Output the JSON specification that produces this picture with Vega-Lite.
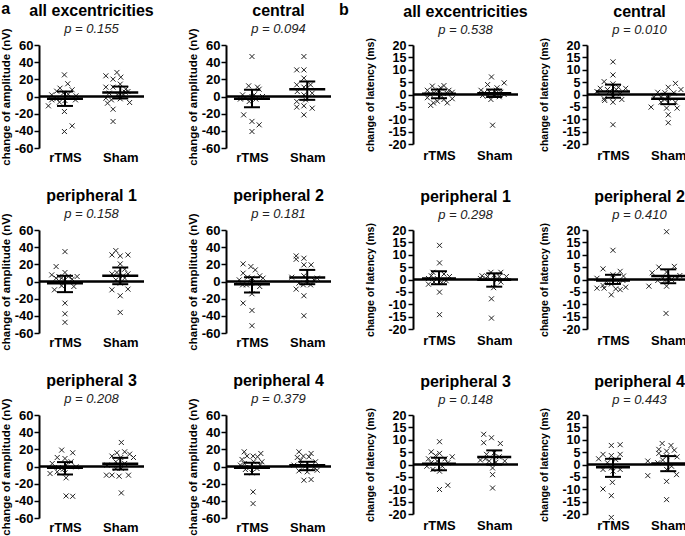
{
"$schema":"https://vega.github.io/schema/vega-lite/v6.json",
"padding":{"left":0,"top":0,"right":0,"bottom":0},
"datasets":{
"stats":[
{"p":"A1","x":1,"m":-2.7,"lo":-11,"hi":5.8},{"p":"A1","x":2,"m":4.7,"lo":-2.3,"hi":11.6},
{"p":"A2","x":1,"m":-2.7,"lo":-12.4,"hi":7.8},{"p":"A2","x":2,"m":8.5,"lo":-3.9,"hi":17.5},
{"p":"A3","x":1,"m":-1.9,"lo":-12.4,"hi":6.6},{"p":"A3","x":2,"m":6.6,"lo":-3.1,"hi":16.3},
{"p":"A4","x":1,"m":-3.1,"lo":-12.8,"hi":5},{"p":"A4","x":2,"m":4.6,"lo":-3.1,"hi":13.5},
{"p":"A5","x":1,"m":-1.6,"lo":-9.3,"hi":5.1},{"p":"A5","x":2,"m":3.1,"lo":-3.5,"hi":10.1},
{"p":"A6","x":1,"m":-1.6,"lo":-9,"hi":4.3},{"p":"A6","x":2,"m":1.6,"lo":-4.3,"hi":5.5},
{"p":"B1","x":1,"m":0.3,"lo":-1.5,"hi":2},{"p":"B1","x":2,"m":0.5,"lo":-1,"hi":2},
{"p":"B2","x":1,"m":1.2,"lo":-1.3,"hi":4},{"p":"B2","x":2,"m":-1.7,"lo":-3.9,"hi":0.3},
{"p":"B3","x":1,"m":0.4,"lo":-1.9,"hi":3.3},{"p":"B3","x":2,"m":-0.1,"lo":-2.9,"hi":2.5},
{"p":"B4","x":1,"m":-0.4,"lo":-1.8,"hi":1.9},{"p":"B4","x":2,"m":1.4,"lo":-1.5,"hi":4.1},
{"p":"B5","x":1,"m":0.3,"lo":-2.3,"hi":2.7},{"p":"B5","x":2,"m":3,"lo":0,"hi":5.7},
{"p":"B6","x":1,"m":-1.1,"lo":-5,"hi":2.3},{"p":"B6","x":2,"m":0.4,"lo":-2.7,"hi":3.4}
],
"pts":[
{"p":"A1","x":0.99,"v":25.2},{"p":"A1","x":1.05,"v":14.8},{"p":"A1","x":0.91,"v":9.7},{"p":"A1","x":1.13,"v":7.8},{"p":"A1","x":0.85,"v":6.2},{"p":"A1","x":0.76,"v":1.9},{"p":"A1","x":0.97,"v":3.9},{"p":"A1","x":1.06,"v":2.7},{"p":"A1","x":1.2,"v":0.8},{"p":"A1","x":0.76,"v":-3.9},{"p":"A1","x":0.85,"v":-2.7},{"p":"A1","x":1.0,"v":-4.7},{"p":"A1","x":1.19,"v":-3.9},{"p":"A1","x":0.9,"v":-6.6},{"p":"A1","x":0.7,"v":-10.9},{"p":"A1","x":0.99,"v":-17.5},{"p":"A1","x":1.13,"v":-34.2},{"p":"A1","x":0.99,"v":-40.8},
{"p":"A1","x":1.74,"v":24.1},{"p":"A1","x":1.94,"v":28},{"p":"A1","x":1.87,"v":20.2},{"p":"A1","x":2.01,"v":22.5},{"p":"A1","x":2.0,"v":14.4},{"p":"A1","x":1.74,"v":10.9},{"p":"A1","x":1.87,"v":10.9},{"p":"A1","x":2.14,"v":5.8},{"p":"A1","x":2.09,"v":5},{"p":"A1","x":1.8,"v":3.9},{"p":"A1","x":1.95,"v":1.9},{"p":"A1","x":2.06,"v":1.9},{"p":"A1","x":1.74,"v":-1.9},{"p":"A1","x":1.84,"v":-3.9},{"p":"A1","x":2.0,"v":-2.7},{"p":"A1","x":1.77,"v":-7.8},{"p":"A1","x":2.17,"v":-7},{"p":"A1","x":1.87,"v":-14.8},{"p":"A1","x":1.87,"v":-29.1},{"p":"A1","x":2.1,"v":8.5},
{"p":"A2","x":1.0,"v":46.6},{"p":"A2","x":0.94,"v":12.4},{"p":"A2","x":1.13,"v":8.5},{"p":"A2","x":0.83,"v":1.9},{"p":"A2","x":0.88,"v":-1.9},{"p":"A2","x":1.0,"v":0},{"p":"A2","x":1.04,"v":1.9},{"p":"A2","x":1.07,"v":-3},{"p":"A2","x":1.19,"v":0},{"p":"A2","x":0.95,"v":-5.8},{"p":"A2","x":0.85,"v":-21.4},{"p":"A2","x":1.0,"v":-29},{"p":"A2","x":1.13,"v":-33},{"p":"A2","x":1.0,"v":-40.8},{"p":"A2","x":0.79,"v":-3},{"p":"A2","x":1.1,"v":10.9},
{"p":"A2","x":1.94,"v":46.6},{"p":"A2","x":1.81,"v":31},{"p":"A2","x":1.94,"v":31},{"p":"A2","x":1.94,"v":21.4},{"p":"A2","x":1.81,"v":13.6},{"p":"A2","x":2.06,"v":13.6},{"p":"A2","x":1.94,"v":10.9},{"p":"A2","x":1.82,"v":5.8},{"p":"A2","x":2.09,"v":3.9},{"p":"A2","x":1.94,"v":1.9},{"p":"A2","x":1.81,"v":-5.8},{"p":"A2","x":1.81,"v":-12.4},{"p":"A2","x":1.94,"v":-10.9},{"p":"A2","x":2.09,"v":-13.6},{"p":"A2","x":1.94,"v":-21.4},{"p":"A2","x":1.97,"v":-3.9},
{"p":"A3","x":1.0,"v":34.8},{"p":"A3","x":0.84,"v":17.4},{"p":"A3","x":0.76,"v":7.7},{"p":"A3","x":1.0,"v":10.5},{"p":"A3","x":0.84,"v":3.9},{"p":"A3","x":1.06,"v":5.8},{"p":"A3","x":1.22,"v":5.8},{"p":"A3","x":0.94,"v":3.9},{"p":"A3","x":1.13,"v":2.7},{"p":"A3","x":0.97,"v":-1.9},{"p":"A3","x":0.81,"v":-9.7},{"p":"A3","x":1.16,"v":-5.8},{"p":"A3","x":0.94,"v":-5},{"p":"A3","x":1.0,"v":-25.2},{"p":"A3","x":1.0,"v":-37.6},{"p":"A3","x":1.0,"v":-47.6},{"p":"A3","x":0.89,"v":5.8},
{"p":"A3","x":1.92,"v":36},{"p":"A3","x":1.85,"v":31},{"p":"A3","x":2.0,"v":29.8},{"p":"A3","x":2.14,"v":31},{"p":"A3","x":2.0,"v":20.5},{"p":"A3","x":2.08,"v":14.3},{"p":"A3","x":1.94,"v":10.5},{"p":"A3","x":1.85,"v":8.9},{"p":"A3","x":2.14,"v":8.9},{"p":"A3","x":2.05,"v":6.6},{"p":"A3","x":2.08,"v":3.9},{"p":"A3","x":2.0,"v":-1.9},{"p":"A3","x":1.85,"v":-9.7},{"p":"A3","x":2.14,"v":-8.9},{"p":"A3","x":2.0,"v":-16.6},{"p":"A3","x":2.0,"v":-36},{"p":"A3","x":1.92,"v":1.9},
{"p":"A4","x":0.84,"v":20.5},{"p":"A4","x":0.98,"v":17.4},{"p":"A4","x":1.06,"v":13.5},{"p":"A4","x":0.84,"v":9.7},{"p":"A4","x":1.14,"v":6.6},{"p":"A4","x":1.0,"v":3.9},{"p":"A4","x":1.2,"v":3.9},{"p":"A4","x":0.77,"v":1.9},{"p":"A4","x":0.92,"v":5},{"p":"A4","x":1.14,"v":-5.8},{"p":"A4","x":0.9,"v":-3.9},{"p":"A4","x":0.99,"v":-1.9},{"p":"A4","x":0.84,"v":-25.2},{"p":"A4","x":1.0,"v":-14.3},{"p":"A4","x":1.0,"v":-33.7},{"p":"A4","x":1.0,"v":-51.5},{"p":"A4","x":0.83,"v":-3.9},
{"p":"A4","x":1.8,"v":29.8},{"p":"A4","x":1.8,"v":25.9},{"p":"A4","x":1.94,"v":27.1},{"p":"A4","x":1.94,"v":19.4},{"p":"A4","x":2.07,"v":19.4},{"p":"A4","x":1.72,"v":5},{"p":"A4","x":1.94,"v":6.6},{"p":"A4","x":2.0,"v":2.7},{"p":"A4","x":1.85,"v":-1.9},{"p":"A4","x":2.12,"v":1.9},{"p":"A4","x":1.93,"v":-3.9},{"p":"A4","x":2.06,"v":-3.9},{"p":"A4","x":1.8,"v":-8.9},{"p":"A4","x":1.94,"v":-16.6},{"p":"A4","x":1.94,"v":-39.9},{"p":"A4","x":2.18,"v":3.9},
{"p":"A5","x":0.94,"v":19.1},{"p":"A5","x":1.14,"v":16},{"p":"A5","x":0.86,"v":10.5},{"p":"A5","x":1.0,"v":9.3},{"p":"A5","x":1.11,"v":5.5},{"p":"A5","x":0.77,"v":3.5},{"p":"A5","x":1.02,"v":1.6},{"p":"A5","x":1.2,"v":-0.4},{"p":"A5","x":0.88,"v":-1.2},{"p":"A5","x":0.73,"v":-8.2},{"p":"A5","x":0.86,"v":-6.2},{"p":"A5","x":1.0,"v":-7.4},{"p":"A5","x":1.02,"v":-13.2},{"p":"A5","x":1.02,"v":-34.3},{"p":"A5","x":1.14,"v":-34.7},{"p":"A5","x":0.97,"v":-3.1},
{"p":"A5","x":2.02,"v":28},{"p":"A5","x":1.94,"v":16},{"p":"A5","x":2.08,"v":17.1},{"p":"A5","x":2.17,"v":14.4},{"p":"A5","x":1.85,"v":12.1},{"p":"A5","x":2.01,"v":10.5},{"p":"A5","x":2.24,"v":10.5},{"p":"A5","x":1.92,"v":5.5},{"p":"A5","x":2.08,"v":3.5},{"p":"A5","x":1.76,"v":1.6},{"p":"A5","x":1.92,"v":-2.3},{"p":"A5","x":1.85,"v":-10.1},{"p":"A5","x":1.75,"v":-10.1},{"p":"A5","x":1.98,"v":-11.3},{"p":"A5","x":2.15,"v":-10.1},{"p":"A5","x":2.02,"v":-30.8},{"p":"A5","x":2.02,"v":-2.3},
{"p":"A6","x":0.86,"v":17.1},{"p":"A6","x":0.91,"v":12.1},{"p":"A6","x":1.02,"v":12.1},{"p":"A6","x":1.1,"v":11.3},{"p":"A6","x":1.16,"v":15.2},{"p":"A6","x":0.82,"v":8.2},{"p":"A6","x":1.03,"v":5.5},{"p":"A6","x":1.18,"v":5.5},{"p":"A6","x":0.86,"v":3.5},{"p":"A6","x":0.96,"v":-1.2},{"p":"A6","x":1.09,"v":-2.3},{"p":"A6","x":0.88,"v":-3.5},{"p":"A6","x":1.0,"v":-7.4},{"p":"A6","x":1.02,"v":-29.6},{"p":"A6","x":1.02,"v":-43.2},{"p":"A6","x":0.79,"v":1.6},{"p":"A6","x":1.15,"v":1.6},
{"p":"A6","x":1.85,"v":17.1},{"p":"A6","x":1.93,"v":12.1},{"p":"A6","x":2.07,"v":15.2},{"p":"A6","x":1.82,"v":10.5},{"p":"A6","x":2.03,"v":11.3},{"p":"A6","x":1.88,"v":7.4},{"p":"A6","x":2.15,"v":5.5},{"p":"A6","x":1.76,"v":1.6},{"p":"A6","x":1.97,"v":0.4},{"p":"A6","x":2.12,"v":-1.2},{"p":"A6","x":1.85,"v":-5.1},{"p":"A6","x":2.0,"v":-6.2},{"p":"A6","x":2.18,"v":-4.3},{"p":"A6","x":1.94,"v":-16},{"p":"A6","x":2.07,"v":-15.2},{"p":"A6","x":1.88,"v":3.5},
{"p":"B1","x":0.88,"v":3.4},{"p":"B1","x":1.09,"v":3.6},{"p":"B1","x":0.79,"v":1.7},{"p":"B1","x":1.0,"v":1.7},{"p":"B1","x":1.18,"v":1.7},{"p":"B1","x":0.91,"v":0.7},{"p":"B1","x":1.04,"v":-0.4},{"p":"B1","x":1.15,"v":0.4},{"p":"B1","x":0.79,"v":-1.3},{"p":"B1","x":1.24,"v":-1.7},{"p":"B1","x":0.9,"v":-3.4},{"p":"B1","x":1.15,"v":-3.4},{"p":"B1","x":0.85,"v":-4.4},{"p":"B1","x":0.97,"v":-2.7},{"p":"B1","x":1.09,"v":-2},{"p":"B1","x":0.84,"v":0},{"p":"B1","x":1.24,"v":0.9},{"p":"B1","x":1.03,"v":2.7},
{"p":"B1","x":1.95,"v":7.1},{"p":"B1","x":1.88,"v":4},{"p":"B1","x":2.18,"v":4.7},{"p":"B1","x":1.76,"v":1.7},{"p":"B1","x":2.04,"v":1.7},{"p":"B1","x":1.91,"v":1.3},{"p":"B1","x":2.12,"v":0.9},{"p":"B1","x":1.82,"v":0.7},{"p":"B1","x":2.0,"v":0},{"p":"B1","x":1.88,"v":-0.7},{"p":"B1","x":2.09,"v":-0.9},{"p":"B1","x":1.94,"v":-2},{"p":"B1","x":2.18,"v":0},{"p":"B1","x":1.79,"v":-0.4},{"p":"B1","x":1.97,"v":-12.4},{"p":"B1","x":2.05,"v":2.7},
{"p":"B2","x":1.0,"v":13.2},{"p":"B2","x":1.0,"v":7.9},{"p":"B2","x":0.84,"v":5.2},{"p":"B2","x":1.0,"v":4.3},{"p":"B2","x":1.1,"v":2.9},{"p":"B2","x":0.77,"v":2.5},{"p":"B2","x":1.23,"v":2.5},{"p":"B2","x":0.9,"v":2},{"p":"B2","x":1.06,"v":2},{"p":"B2","x":0.94,"v":1.2},{"p":"B2","x":0.71,"v":1.2},{"p":"B2","x":1.13,"v":0.3},{"p":"B2","x":0.84,"v":-1.7},{"p":"B2","x":1.0,"v":-1.1},{"p":"B2","x":1.16,"v":-2},{"p":"B2","x":0.85,"v":-2.4},{"p":"B2","x":1.0,"v":-3.1},{"p":"B2","x":1.0,"v":-12.2},
{"p":"B2","x":2.0,"v":2.9},{"p":"B2","x":2.13,"v":4.5},{"p":"B2","x":2.23,"v":2},{"p":"B2","x":1.81,"v":0.9},{"p":"B2","x":1.94,"v":0.7},{"p":"B2","x":2.1,"v":0.7},{"p":"B2","x":1.74,"v":-1.1},{"p":"B2","x":1.87,"v":-1.1},{"p":"B2","x":2.0,"v":-1.5},{"p":"B2","x":2.13,"v":-3.1},{"p":"B2","x":1.87,"v":-3.1},{"p":"B2","x":1.69,"v":-5.1},{"p":"B2","x":1.97,"v":-5.5},{"p":"B2","x":2.16,"v":-5.5},{"p":"B2","x":2.0,"v":-8.2},{"p":"B2","x":2.0,"v":-11.4},{"p":"B2","x":1.94,"v":-2},
{"p":"B3","x":1.01,"v":13.8},{"p":"B3","x":1.01,"v":6.7},{"p":"B3","x":0.89,"v":2.9},{"p":"B3","x":1.09,"v":2.2},{"p":"B3","x":0.81,"v":0.4},{"p":"B3","x":0.97,"v":0.4},{"p":"B3","x":1.19,"v":1.2},{"p":"B3","x":0.91,"v":-1},{"p":"B3","x":1.05,"v":-1.2},{"p":"B3","x":0.81,"v":-1.9},{"p":"B3","x":1.13,"v":-0.5},{"p":"B3","x":1.01,"v":-5.1},{"p":"B3","x":1.01,"v":-14.2},{"p":"B3","x":0.86,"v":1.5},
{"p":"B3","x":2.12,"v":2.9},{"p":"B3","x":1.94,"v":2.9},{"p":"B3","x":2.0,"v":1.8},{"p":"B3","x":1.78,"v":1.5},{"p":"B3","x":1.88,"v":1.2},{"p":"B3","x":2.22,"v":1.2},{"p":"B3","x":2.09,"v":1.2},{"p":"B3","x":1.75,"v":0.4},{"p":"B3","x":2.05,"v":-0.1},{"p":"B3","x":2.12,"v":-1},{"p":"B3","x":1.99,"v":-3.3},{"p":"B3","x":1.95,"v":-7.8},{"p":"B3","x":1.95,"v":-15.6},{"p":"B3","x":1.85,"v":0.4},
{"p":"B4","x":1.0,"v":11.8},{"p":"B4","x":0.82,"v":4.3},{"p":"B4","x":1.13,"v":3.3},{"p":"B4","x":1.0,"v":1.9},{"p":"B4","x":0.71,"v":0.5},{"p":"B4","x":1.19,"v":1.4},{"p":"B4","x":0.88,"v":-0.8},{"p":"B4","x":1.1,"v":-0.8},{"p":"B4","x":0.82,"v":-2.4},{"p":"B4","x":0.97,"v":-1.8},{"p":"B4","x":1.23,"v":-3.1},{"p":"B4","x":0.71,"v":-3.5},{"p":"B4","x":0.84,"v":-3.5},{"p":"B4","x":1.05,"v":-3.8},{"p":"B4","x":1.13,"v":-4.1},{"p":"B4","x":0.97,"v":-6.2},{"p":"B4","x":1.18,"v":-0.4},
{"p":"B4","x":1.97,"v":19.3},{"p":"B4","x":1.83,"v":5},{"p":"B4","x":2.11,"v":5.3},{"p":"B4","x":1.71,"v":2.7},{"p":"B4","x":1.97,"v":3},{"p":"B4","x":2.21,"v":1.6},{"p":"B4","x":1.9,"v":0.5},{"p":"B4","x":2.02,"v":0.5},{"p":"B4","x":2.06,"v":0},{"p":"B4","x":1.81,"v":-0.4},{"p":"B4","x":1.94,"v":-0.4},{"p":"B4","x":1.65,"v":-2.7},{"p":"B4","x":1.97,"v":-2.7},{"p":"B4","x":1.96,"v":-13.7},{"p":"B4","x":2.16,"v":0.5},
{"p":"B5","x":1.01,"v":9.2},{"p":"B5","x":0.86,"v":5.1},{"p":"B5","x":1.01,"v":4.5},{"p":"B5","x":0.94,"v":3.6},{"p":"B5","x":1.24,"v":3.1},{"p":"B5","x":0.81,"v":2.3},{"p":"B5","x":1.11,"v":2.3},{"p":"B5","x":0.97,"v":1.4},{"p":"B5","x":1.16,"v":0.7},{"p":"B5","x":0.78,"v":-0.7},{"p":"B5","x":1.06,"v":-0.7},{"p":"B5","x":0.89,"v":-2},{"p":"B5","x":1.01,"v":-2.7},{"p":"B5","x":1.01,"v":-10.1},{"p":"B5","x":1.16,"v":-8.4},{"p":"B5","x":0.86,"v":0.7},
{"p":"B5","x":1.81,"v":12.2},{"p":"B5","x":1.95,"v":10.8},{"p":"B5","x":1.81,"v":8.8},{"p":"B5","x":2.11,"v":8.5},{"p":"B5","x":2.0,"v":4.7},{"p":"B5","x":1.86,"v":4.1},{"p":"B5","x":2.09,"v":3.1},{"p":"B5","x":1.75,"v":1.8},{"p":"B5","x":1.91,"v":1.4},{"p":"B5","x":2.19,"v":1.4},{"p":"B5","x":2.03,"v":0.9},{"p":"B5","x":1.97,"v":-1.4},{"p":"B5","x":1.97,"v":-4.1},{"p":"B5","x":1.97,"v":-9.5},{"p":"B5","x":1.84,"v":2.3},
{"p":"B6","x":0.97,"v":7.7},{"p":"B6","x":1.13,"v":8},{"p":"B6","x":0.82,"v":4.1},{"p":"B6","x":0.97,"v":3.6},{"p":"B6","x":1.13,"v":4.1},{"p":"B6","x":0.74,"v":2.3},{"p":"B6","x":1.05,"v":2},{"p":"B6","x":0.9,"v":0.7},{"p":"B6","x":0.82,"v":-2},{"p":"B6","x":1.0,"v":-2.7},{"p":"B6","x":1.13,"v":-2},{"p":"B6","x":0.97,"v":-1.4},{"p":"B6","x":0.99,"v":-7.2},{"p":"B6","x":0.82,"v":-9.9},{"p":"B6","x":0.97,"v":-12.6},{"p":"B6","x":0.97,"v":-21.4},
{"p":"B6","x":1.89,"v":8.5},{"p":"B6","x":2.05,"v":7.7},{"p":"B6","x":1.83,"v":6.1},{"p":"B6","x":1.97,"v":5.4},{"p":"B6","x":2.11,"v":5.8},{"p":"B6","x":1.83,"v":4.5},{"p":"B6","x":1.97,"v":3.4},{"p":"B6","x":2.16,"v":3.1},{"p":"B6","x":1.9,"v":1.8},{"p":"B6","x":1.63,"v":1.4},{"p":"B6","x":1.81,"v":0.7},{"p":"B6","x":2.06,"v":-0.7},{"p":"B6","x":1.97,"v":-2},{"p":"B6","x":2.15,"v":-4.1},{"p":"B6","x":1.63,"v":-4.5},{"p":"B6","x":1.97,"v":-6.8},{"p":"B6","x":1.97,"v":-14.2}
]
},
"spacing":6,
"hconcat":[
{"title":{"text":"a","anchor":"start","frame":"bounds","offset":-14,"fontSize":16,"dx":1},
 "columns":2,"bounds":"flush","spacing":{"row":82,"column":82},
 "concat":[
  {"width":105,"height":103,"title":{"text":"all excentricities","subtitle":"p = 0.155","offset":-8},"layer":[
   {"data":{"name":"pts"},"transform":[{"filter":"datum.p=='A1'"}],"mark":{"type":"point","shape":"M-1,-1L1,1M-1,1L1,-1","size":25,"strokeWidth":1,"color":"#222","opacity":1,"filled":false},"encoding":{"x":{"field":"x","type":"quantitative","scale":{"domain":[0.53,2.43]},"axis":{"values":[1,2],"labelExpr":"datum.value==1?'rTMS':'Sham'","labelPadding":3},"title":null},"y":{"field":"v","type":"quantitative","scale":{"domain":[-60,60]},"axis":{"values":[-60,-40,-20,0,20,40,60],"labelExpr":"toString(datum.value)","titleFontSize":11.5,"labelFontSize":13,"titlePadding":3},"title":"change of amplitude (nV)"}}},
   {"data":{"name":"stats"},"transform":[{"filter":"datum.p=='A1'"}],"mark":{"type":"rule","strokeWidth":2,"color":"#000"},"encoding":{"y":{"datum":0,"type":"quantitative","scale":{"domain":[-60,60]},"axis":{"values":[-60,-40,-20,0,20,40,60],"labelExpr":"toString(datum.value)","titleFontSize":11.5,"labelFontSize":13,"titlePadding":3},"title":"change of amplitude (nV)"}}},
   {"data":{"name":"stats"},"transform":[{"filter":"datum.p=='A1'"}],"mark":{"type":"rule","strokeWidth":2,"color":"#000"},"encoding":{"x":{"field":"x","type":"quantitative","scale":{"domain":[0.53,2.43]},"axis":{"values":[1,2],"labelExpr":"datum.value==1?'rTMS':'Sham'","labelPadding":3},"title":null},"y":{"field":"lo","type":"quantitative","scale":{"domain":[-60,60]},"axis":{"values":[-60,-40,-20,0,20,40,60],"labelExpr":"toString(datum.value)","titleFontSize":11.5,"labelFontSize":13,"titlePadding":3},"title":"change of amplitude (nV)"},"y2":{"field":"hi"}}},
   {"data":{"name":"stats"},"transform":[{"filter":"datum.p=='A1'"}],"mark":{"type":"tick","orient":"horizontal","size":36,"thickness":2.5,"color":"#000","opacity":1},"encoding":{"x":{"field":"x","type":"quantitative","scale":{"domain":[0.53,2.43]},"axis":{"values":[1,2],"labelExpr":"datum.value==1?'rTMS':'Sham'","labelPadding":3},"title":null},"y":{"field":"m","type":"quantitative","scale":{"domain":[-60,60]},"axis":{"values":[-60,-40,-20,0,20,40,60],"labelExpr":"toString(datum.value)","titleFontSize":11.5,"labelFontSize":13,"titlePadding":3},"title":"change of amplitude (nV)"}}},
   {"data":{"name":"stats"},"transform":[{"filter":"datum.p=='A1'"}],"mark":{"type":"tick","orient":"horizontal","size":16,"thickness":2,"color":"#000","opacity":1},"encoding":{"x":{"field":"x","type":"quantitative","scale":{"domain":[0.53,2.43]},"axis":{"values":[1,2],"labelExpr":"datum.value==1?'rTMS':'Sham'","labelPadding":3},"title":null},"y":{"field":"lo","type":"quantitative","scale":{"domain":[-60,60]},"axis":{"values":[-60,-40,-20,0,20,40,60],"labelExpr":"toString(datum.value)","titleFontSize":11.5,"labelFontSize":13,"titlePadding":3},"title":"change of amplitude (nV)"}}},
   {"data":{"name":"stats"},"transform":[{"filter":"datum.p=='A1'"}],"mark":{"type":"tick","orient":"horizontal","size":16,"thickness":2,"color":"#000","opacity":1},"encoding":{"x":{"field":"x","type":"quantitative","scale":{"domain":[0.53,2.43]},"axis":{"values":[1,2],"labelExpr":"datum.value==1?'rTMS':'Sham'","labelPadding":3},"title":null},"y":{"field":"hi","type":"quantitative","scale":{"domain":[-60,60]},"axis":{"values":[-60,-40,-20,0,20,40,60],"labelExpr":"toString(datum.value)","titleFontSize":11.5,"labelFontSize":13,"titlePadding":3},"title":"change of amplitude (nV)"}}}
  ]},
  {"width":105,"height":103,"title":{"text":"central","subtitle":"p = 0.094","offset":-8},"layer":[
   {"data":{"name":"pts"},"transform":[{"filter":"datum.p=='A2'"}],"mark":{"type":"point","shape":"M-1,-1L1,1M-1,1L1,-1","size":25,"strokeWidth":1,"color":"#222","opacity":1,"filled":false},"encoding":{"x":{"field":"x","type":"quantitative","scale":{"domain":[0.53,2.43]},"axis":{"values":[1,2],"labelExpr":"datum.value==1?'rTMS':'Sham'","labelPadding":3},"title":null},"y":{"field":"v","type":"quantitative","scale":{"domain":[-60,60]},"axis":{"values":[-60,-40,-20,0,20,40,60],"labelExpr":"toString(datum.value)","titleFontSize":11.5,"labelFontSize":13,"titlePadding":3},"title":"change of amplitude (nV)"}}},
   {"data":{"name":"stats"},"transform":[{"filter":"datum.p=='A2'"}],"mark":{"type":"rule","strokeWidth":2,"color":"#000"},"encoding":{"y":{"datum":0,"type":"quantitative","scale":{"domain":[-60,60]},"axis":{"values":[-60,-40,-20,0,20,40,60],"labelExpr":"toString(datum.value)","titleFontSize":11.5,"labelFontSize":13,"titlePadding":3},"title":"change of amplitude (nV)"}}},
   {"data":{"name":"stats"},"transform":[{"filter":"datum.p=='A2'"}],"mark":{"type":"rule","strokeWidth":2,"color":"#000"},"encoding":{"x":{"field":"x","type":"quantitative","scale":{"domain":[0.53,2.43]},"axis":{"values":[1,2],"labelExpr":"datum.value==1?'rTMS':'Sham'","labelPadding":3},"title":null},"y":{"field":"lo","type":"quantitative","scale":{"domain":[-60,60]},"axis":{"values":[-60,-40,-20,0,20,40,60],"labelExpr":"toString(datum.value)","titleFontSize":11.5,"labelFontSize":13,"titlePadding":3},"title":"change of amplitude (nV)"},"y2":{"field":"hi"}}},
   {"data":{"name":"stats"},"transform":[{"filter":"datum.p=='A2'"}],"mark":{"type":"tick","orient":"horizontal","size":36,"thickness":2.5,"color":"#000","opacity":1},"encoding":{"x":{"field":"x","type":"quantitative","scale":{"domain":[0.53,2.43]},"axis":{"values":[1,2],"labelExpr":"datum.value==1?'rTMS':'Sham'","labelPadding":3},"title":null},"y":{"field":"m","type":"quantitative","scale":{"domain":[-60,60]},"axis":{"values":[-60,-40,-20,0,20,40,60],"labelExpr":"toString(datum.value)","titleFontSize":11.5,"labelFontSize":13,"titlePadding":3},"title":"change of amplitude (nV)"}}},
   {"data":{"name":"stats"},"transform":[{"filter":"datum.p=='A2'"}],"mark":{"type":"tick","orient":"horizontal","size":16,"thickness":2,"color":"#000","opacity":1},"encoding":{"x":{"field":"x","type":"quantitative","scale":{"domain":[0.53,2.43]},"axis":{"values":[1,2],"labelExpr":"datum.value==1?'rTMS':'Sham'","labelPadding":3},"title":null},"y":{"field":"lo","type":"quantitative","scale":{"domain":[-60,60]},"axis":{"values":[-60,-40,-20,0,20,40,60],"labelExpr":"toString(datum.value)","titleFontSize":11.5,"labelFontSize":13,"titlePadding":3},"title":"change of amplitude (nV)"}}},
   {"data":{"name":"stats"},"transform":[{"filter":"datum.p=='A2'"}],"mark":{"type":"tick","orient":"horizontal","size":16,"thickness":2,"color":"#000","opacity":1},"encoding":{"x":{"field":"x","type":"quantitative","scale":{"domain":[0.53,2.43]},"axis":{"values":[1,2],"labelExpr":"datum.value==1?'rTMS':'Sham'","labelPadding":3},"title":null},"y":{"field":"hi","type":"quantitative","scale":{"domain":[-60,60]},"axis":{"values":[-60,-40,-20,0,20,40,60],"labelExpr":"toString(datum.value)","titleFontSize":11.5,"labelFontSize":13,"titlePadding":3},"title":"change of amplitude (nV)"}}}
  ]},
  {"width":105,"height":103,"title":{"text":"peripheral 1","subtitle":"p = 0.158","offset":-8},"layer":[
   {"data":{"name":"pts"},"transform":[{"filter":"datum.p=='A3'"}],"mark":{"type":"point","shape":"M-1,-1L1,1M-1,1L1,-1","size":25,"strokeWidth":1,"color":"#222","opacity":1,"filled":false},"encoding":{"x":{"field":"x","type":"quantitative","scale":{"domain":[0.53,2.43]},"axis":{"values":[1,2],"labelExpr":"datum.value==1?'rTMS':'Sham'","labelPadding":3},"title":null},"y":{"field":"v","type":"quantitative","scale":{"domain":[-60,60]},"axis":{"values":[-60,-40,-20,0,20,40,60],"labelExpr":"toString(datum.value)","titleFontSize":11.5,"labelFontSize":13,"titlePadding":3},"title":"change of amplitude (nV)"}}},
   {"data":{"name":"stats"},"transform":[{"filter":"datum.p=='A3'"}],"mark":{"type":"rule","strokeWidth":2,"color":"#000"},"encoding":{"y":{"datum":0,"type":"quantitative","scale":{"domain":[-60,60]},"axis":{"values":[-60,-40,-20,0,20,40,60],"labelExpr":"toString(datum.value)","titleFontSize":11.5,"labelFontSize":13,"titlePadding":3},"title":"change of amplitude (nV)"}}},
   {"data":{"name":"stats"},"transform":[{"filter":"datum.p=='A3'"}],"mark":{"type":"rule","strokeWidth":2,"color":"#000"},"encoding":{"x":{"field":"x","type":"quantitative","scale":{"domain":[0.53,2.43]},"axis":{"values":[1,2],"labelExpr":"datum.value==1?'rTMS':'Sham'","labelPadding":3},"title":null},"y":{"field":"lo","type":"quantitative","scale":{"domain":[-60,60]},"axis":{"values":[-60,-40,-20,0,20,40,60],"labelExpr":"toString(datum.value)","titleFontSize":11.5,"labelFontSize":13,"titlePadding":3},"title":"change of amplitude (nV)"},"y2":{"field":"hi"}}},
   {"data":{"name":"stats"},"transform":[{"filter":"datum.p=='A3'"}],"mark":{"type":"tick","orient":"horizontal","size":36,"thickness":2.5,"color":"#000","opacity":1},"encoding":{"x":{"field":"x","type":"quantitative","scale":{"domain":[0.53,2.43]},"axis":{"values":[1,2],"labelExpr":"datum.value==1?'rTMS':'Sham'","labelPadding":3},"title":null},"y":{"field":"m","type":"quantitative","scale":{"domain":[-60,60]},"axis":{"values":[-60,-40,-20,0,20,40,60],"labelExpr":"toString(datum.value)","titleFontSize":11.5,"labelFontSize":13,"titlePadding":3},"title":"change of amplitude (nV)"}}},
   {"data":{"name":"stats"},"transform":[{"filter":"datum.p=='A3'"}],"mark":{"type":"tick","orient":"horizontal","size":16,"thickness":2,"color":"#000","opacity":1},"encoding":{"x":{"field":"x","type":"quantitative","scale":{"domain":[0.53,2.43]},"axis":{"values":[1,2],"labelExpr":"datum.value==1?'rTMS':'Sham'","labelPadding":3},"title":null},"y":{"field":"lo","type":"quantitative","scale":{"domain":[-60,60]},"axis":{"values":[-60,-40,-20,0,20,40,60],"labelExpr":"toString(datum.value)","titleFontSize":11.5,"labelFontSize":13,"titlePadding":3},"title":"change of amplitude (nV)"}}},
   {"data":{"name":"stats"},"transform":[{"filter":"datum.p=='A3'"}],"mark":{"type":"tick","orient":"horizontal","size":16,"thickness":2,"color":"#000","opacity":1},"encoding":{"x":{"field":"x","type":"quantitative","scale":{"domain":[0.53,2.43]},"axis":{"values":[1,2],"labelExpr":"datum.value==1?'rTMS':'Sham'","labelPadding":3},"title":null},"y":{"field":"hi","type":"quantitative","scale":{"domain":[-60,60]},"axis":{"values":[-60,-40,-20,0,20,40,60],"labelExpr":"toString(datum.value)","titleFontSize":11.5,"labelFontSize":13,"titlePadding":3},"title":"change of amplitude (nV)"}}}
  ]},
  {"width":105,"height":103,"title":{"text":"peripheral 2","subtitle":"p = 0.181","offset":-8},"layer":[
   {"data":{"name":"pts"},"transform":[{"filter":"datum.p=='A4'"}],"mark":{"type":"point","shape":"M-1,-1L1,1M-1,1L1,-1","size":25,"strokeWidth":1,"color":"#222","opacity":1,"filled":false},"encoding":{"x":{"field":"x","type":"quantitative","scale":{"domain":[0.53,2.43]},"axis":{"values":[1,2],"labelExpr":"datum.value==1?'rTMS':'Sham'","labelPadding":3},"title":null},"y":{"field":"v","type":"quantitative","scale":{"domain":[-60,60]},"axis":{"values":[-60,-40,-20,0,20,40,60],"labelExpr":"toString(datum.value)","titleFontSize":11.5,"labelFontSize":13,"titlePadding":3},"title":"change of amplitude (nV)"}}},
   {"data":{"name":"stats"},"transform":[{"filter":"datum.p=='A4'"}],"mark":{"type":"rule","strokeWidth":2,"color":"#000"},"encoding":{"y":{"datum":0,"type":"quantitative","scale":{"domain":[-60,60]},"axis":{"values":[-60,-40,-20,0,20,40,60],"labelExpr":"toString(datum.value)","titleFontSize":11.5,"labelFontSize":13,"titlePadding":3},"title":"change of amplitude (nV)"}}},
   {"data":{"name":"stats"},"transform":[{"filter":"datum.p=='A4'"}],"mark":{"type":"rule","strokeWidth":2,"color":"#000"},"encoding":{"x":{"field":"x","type":"quantitative","scale":{"domain":[0.53,2.43]},"axis":{"values":[1,2],"labelExpr":"datum.value==1?'rTMS':'Sham'","labelPadding":3},"title":null},"y":{"field":"lo","type":"quantitative","scale":{"domain":[-60,60]},"axis":{"values":[-60,-40,-20,0,20,40,60],"labelExpr":"toString(datum.value)","titleFontSize":11.5,"labelFontSize":13,"titlePadding":3},"title":"change of amplitude (nV)"},"y2":{"field":"hi"}}},
   {"data":{"name":"stats"},"transform":[{"filter":"datum.p=='A4'"}],"mark":{"type":"tick","orient":"horizontal","size":36,"thickness":2.5,"color":"#000","opacity":1},"encoding":{"x":{"field":"x","type":"quantitative","scale":{"domain":[0.53,2.43]},"axis":{"values":[1,2],"labelExpr":"datum.value==1?'rTMS':'Sham'","labelPadding":3},"title":null},"y":{"field":"m","type":"quantitative","scale":{"domain":[-60,60]},"axis":{"values":[-60,-40,-20,0,20,40,60],"labelExpr":"toString(datum.value)","titleFontSize":11.5,"labelFontSize":13,"titlePadding":3},"title":"change of amplitude (nV)"}}},
   {"data":{"name":"stats"},"transform":[{"filter":"datum.p=='A4'"}],"mark":{"type":"tick","orient":"horizontal","size":16,"thickness":2,"color":"#000","opacity":1},"encoding":{"x":{"field":"x","type":"quantitative","scale":{"domain":[0.53,2.43]},"axis":{"values":[1,2],"labelExpr":"datum.value==1?'rTMS':'Sham'","labelPadding":3},"title":null},"y":{"field":"lo","type":"quantitative","scale":{"domain":[-60,60]},"axis":{"values":[-60,-40,-20,0,20,40,60],"labelExpr":"toString(datum.value)","titleFontSize":11.5,"labelFontSize":13,"titlePadding":3},"title":"change of amplitude (nV)"}}},
   {"data":{"name":"stats"},"transform":[{"filter":"datum.p=='A4'"}],"mark":{"type":"tick","orient":"horizontal","size":16,"thickness":2,"color":"#000","opacity":1},"encoding":{"x":{"field":"x","type":"quantitative","scale":{"domain":[0.53,2.43]},"axis":{"values":[1,2],"labelExpr":"datum.value==1?'rTMS':'Sham'","labelPadding":3},"title":null},"y":{"field":"hi","type":"quantitative","scale":{"domain":[-60,60]},"axis":{"values":[-60,-40,-20,0,20,40,60],"labelExpr":"toString(datum.value)","titleFontSize":11.5,"labelFontSize":13,"titlePadding":3},"title":"change of amplitude (nV)"}}}
  ]},
  {"width":105,"height":103,"title":{"text":"peripheral 3","subtitle":"p = 0.208","offset":-8},"layer":[
   {"data":{"name":"pts"},"transform":[{"filter":"datum.p=='A5'"}],"mark":{"type":"point","shape":"M-1,-1L1,1M-1,1L1,-1","size":25,"strokeWidth":1,"color":"#222","opacity":1,"filled":false},"encoding":{"x":{"field":"x","type":"quantitative","scale":{"domain":[0.53,2.43]},"axis":{"values":[1,2],"labelExpr":"datum.value==1?'rTMS':'Sham'","labelPadding":3},"title":null},"y":{"field":"v","type":"quantitative","scale":{"domain":[-60,60]},"axis":{"values":[-60,-40,-20,0,20,40,60],"labelExpr":"toString(datum.value)","titleFontSize":11.5,"labelFontSize":13,"titlePadding":3},"title":"change of amplitude (nV)"}}},
   {"data":{"name":"stats"},"transform":[{"filter":"datum.p=='A5'"}],"mark":{"type":"rule","strokeWidth":2,"color":"#000"},"encoding":{"y":{"datum":0,"type":"quantitative","scale":{"domain":[-60,60]},"axis":{"values":[-60,-40,-20,0,20,40,60],"labelExpr":"toString(datum.value)","titleFontSize":11.5,"labelFontSize":13,"titlePadding":3},"title":"change of amplitude (nV)"}}},
   {"data":{"name":"stats"},"transform":[{"filter":"datum.p=='A5'"}],"mark":{"type":"rule","strokeWidth":2,"color":"#000"},"encoding":{"x":{"field":"x","type":"quantitative","scale":{"domain":[0.53,2.43]},"axis":{"values":[1,2],"labelExpr":"datum.value==1?'rTMS':'Sham'","labelPadding":3},"title":null},"y":{"field":"lo","type":"quantitative","scale":{"domain":[-60,60]},"axis":{"values":[-60,-40,-20,0,20,40,60],"labelExpr":"toString(datum.value)","titleFontSize":11.5,"labelFontSize":13,"titlePadding":3},"title":"change of amplitude (nV)"},"y2":{"field":"hi"}}},
   {"data":{"name":"stats"},"transform":[{"filter":"datum.p=='A5'"}],"mark":{"type":"tick","orient":"horizontal","size":36,"thickness":2.5,"color":"#000","opacity":1},"encoding":{"x":{"field":"x","type":"quantitative","scale":{"domain":[0.53,2.43]},"axis":{"values":[1,2],"labelExpr":"datum.value==1?'rTMS':'Sham'","labelPadding":3},"title":null},"y":{"field":"m","type":"quantitative","scale":{"domain":[-60,60]},"axis":{"values":[-60,-40,-20,0,20,40,60],"labelExpr":"toString(datum.value)","titleFontSize":11.5,"labelFontSize":13,"titlePadding":3},"title":"change of amplitude (nV)"}}},
   {"data":{"name":"stats"},"transform":[{"filter":"datum.p=='A5'"}],"mark":{"type":"tick","orient":"horizontal","size":16,"thickness":2,"color":"#000","opacity":1},"encoding":{"x":{"field":"x","type":"quantitative","scale":{"domain":[0.53,2.43]},"axis":{"values":[1,2],"labelExpr":"datum.value==1?'rTMS':'Sham'","labelPadding":3},"title":null},"y":{"field":"lo","type":"quantitative","scale":{"domain":[-60,60]},"axis":{"values":[-60,-40,-20,0,20,40,60],"labelExpr":"toString(datum.value)","titleFontSize":11.5,"labelFontSize":13,"titlePadding":3},"title":"change of amplitude (nV)"}}},
   {"data":{"name":"stats"},"transform":[{"filter":"datum.p=='A5'"}],"mark":{"type":"tick","orient":"horizontal","size":16,"thickness":2,"color":"#000","opacity":1},"encoding":{"x":{"field":"x","type":"quantitative","scale":{"domain":[0.53,2.43]},"axis":{"values":[1,2],"labelExpr":"datum.value==1?'rTMS':'Sham'","labelPadding":3},"title":null},"y":{"field":"hi","type":"quantitative","scale":{"domain":[-60,60]},"axis":{"values":[-60,-40,-20,0,20,40,60],"labelExpr":"toString(datum.value)","titleFontSize":11.5,"labelFontSize":13,"titlePadding":3},"title":"change of amplitude (nV)"}}}
  ]},
  {"width":105,"height":103,"title":{"text":"peripheral 4","subtitle":"p = 0.379","offset":-8},"layer":[
   {"data":{"name":"pts"},"transform":[{"filter":"datum.p=='A6'"}],"mark":{"type":"point","shape":"M-1,-1L1,1M-1,1L1,-1","size":25,"strokeWidth":1,"color":"#222","opacity":1,"filled":false},"encoding":{"x":{"field":"x","type":"quantitative","scale":{"domain":[0.53,2.43]},"axis":{"values":[1,2],"labelExpr":"datum.value==1?'rTMS':'Sham'","labelPadding":3},"title":null},"y":{"field":"v","type":"quantitative","scale":{"domain":[-60,60]},"axis":{"values":[-60,-40,-20,0,20,40,60],"labelExpr":"toString(datum.value)","titleFontSize":11.5,"labelFontSize":13,"titlePadding":3},"title":"change of amplitude (nV)"}}},
   {"data":{"name":"stats"},"transform":[{"filter":"datum.p=='A6'"}],"mark":{"type":"rule","strokeWidth":2,"color":"#000"},"encoding":{"y":{"datum":0,"type":"quantitative","scale":{"domain":[-60,60]},"axis":{"values":[-60,-40,-20,0,20,40,60],"labelExpr":"toString(datum.value)","titleFontSize":11.5,"labelFontSize":13,"titlePadding":3},"title":"change of amplitude (nV)"}}},
   {"data":{"name":"stats"},"transform":[{"filter":"datum.p=='A6'"}],"mark":{"type":"rule","strokeWidth":2,"color":"#000"},"encoding":{"x":{"field":"x","type":"quantitative","scale":{"domain":[0.53,2.43]},"axis":{"values":[1,2],"labelExpr":"datum.value==1?'rTMS':'Sham'","labelPadding":3},"title":null},"y":{"field":"lo","type":"quantitative","scale":{"domain":[-60,60]},"axis":{"values":[-60,-40,-20,0,20,40,60],"labelExpr":"toString(datum.value)","titleFontSize":11.5,"labelFontSize":13,"titlePadding":3},"title":"change of amplitude (nV)"},"y2":{"field":"hi"}}},
   {"data":{"name":"stats"},"transform":[{"filter":"datum.p=='A6'"}],"mark":{"type":"tick","orient":"horizontal","size":36,"thickness":2.5,"color":"#000","opacity":1},"encoding":{"x":{"field":"x","type":"quantitative","scale":{"domain":[0.53,2.43]},"axis":{"values":[1,2],"labelExpr":"datum.value==1?'rTMS':'Sham'","labelPadding":3},"title":null},"y":{"field":"m","type":"quantitative","scale":{"domain":[-60,60]},"axis":{"values":[-60,-40,-20,0,20,40,60],"labelExpr":"toString(datum.value)","titleFontSize":11.5,"labelFontSize":13,"titlePadding":3},"title":"change of amplitude (nV)"}}},
   {"data":{"name":"stats"},"transform":[{"filter":"datum.p=='A6'"}],"mark":{"type":"tick","orient":"horizontal","size":16,"thickness":2,"color":"#000","opacity":1},"encoding":{"x":{"field":"x","type":"quantitative","scale":{"domain":[0.53,2.43]},"axis":{"values":[1,2],"labelExpr":"datum.value==1?'rTMS':'Sham'","labelPadding":3},"title":null},"y":{"field":"lo","type":"quantitative","scale":{"domain":[-60,60]},"axis":{"values":[-60,-40,-20,0,20,40,60],"labelExpr":"toString(datum.value)","titleFontSize":11.5,"labelFontSize":13,"titlePadding":3},"title":"change of amplitude (nV)"}}},
   {"data":{"name":"stats"},"transform":[{"filter":"datum.p=='A6'"}],"mark":{"type":"tick","orient":"horizontal","size":16,"thickness":2,"color":"#000","opacity":1},"encoding":{"x":{"field":"x","type":"quantitative","scale":{"domain":[0.53,2.43]},"axis":{"values":[1,2],"labelExpr":"datum.value==1?'rTMS':'Sham'","labelPadding":3},"title":null},"y":{"field":"hi","type":"quantitative","scale":{"domain":[-60,60]},"axis":{"values":[-60,-40,-20,0,20,40,60],"labelExpr":"toString(datum.value)","titleFontSize":11.5,"labelFontSize":13,"titlePadding":3},"title":"change of amplitude (nV)"}}}
  ]}
 ]},
{"title":{"text":"b","anchor":"start","frame":"bounds","offset":-14,"fontSize":16,"dx":-27},
 "columns":2,"bounds":"flush","spacing":{"row":86,"column":69},
 "concat":[
  {"width":105,"height":99,"title":{"text":"all excentricities","subtitle":"p = 0.538","offset":1},"layer":[
   {"data":{"name":"pts"},"transform":[{"filter":"datum.p=='B1'"}],"mark":{"type":"point","shape":"M-1,-1L1,1M-1,1L1,-1","size":25,"strokeWidth":1,"color":"#222","opacity":1,"filled":false},"encoding":{"x":{"field":"x","type":"quantitative","scale":{"domain":[0.53,2.43]},"axis":{"values":[1,2],"labelExpr":"datum.value==1?'rTMS':'Sham'","labelPadding":5},"title":null},"y":{"field":"v","type":"quantitative","scale":{"domain":[-20,20]},"axis":{"values":[-20,-15,-10,-5,0,5,10,15,20],"labelExpr":"toString(datum.value)","titleFontSize":10.5,"labelFontSize":12.5,"titlePadding":12,"labelPadding":2},"title":"change of latency (ms)"}}},
   {"data":{"name":"stats"},"transform":[{"filter":"datum.p=='B1'"}],"mark":{"type":"rule","strokeWidth":2,"color":"#000"},"encoding":{"y":{"datum":0,"type":"quantitative","scale":{"domain":[-20,20]},"axis":{"values":[-20,-15,-10,-5,0,5,10,15,20],"labelExpr":"toString(datum.value)","titleFontSize":10.5,"labelFontSize":12.5,"titlePadding":12,"labelPadding":2},"title":"change of latency (ms)"}}},
   {"data":{"name":"stats"},"transform":[{"filter":"datum.p=='B1'"}],"mark":{"type":"rule","strokeWidth":2,"color":"#000"},"encoding":{"x":{"field":"x","type":"quantitative","scale":{"domain":[0.53,2.43]},"axis":{"values":[1,2],"labelExpr":"datum.value==1?'rTMS':'Sham'","labelPadding":5},"title":null},"y":{"field":"lo","type":"quantitative","scale":{"domain":[-20,20]},"axis":{"values":[-20,-15,-10,-5,0,5,10,15,20],"labelExpr":"toString(datum.value)","titleFontSize":10.5,"labelFontSize":12.5,"titlePadding":12,"labelPadding":2},"title":"change of latency (ms)"},"y2":{"field":"hi"}}},
   {"data":{"name":"stats"},"transform":[{"filter":"datum.p=='B1'"}],"mark":{"type":"tick","orient":"horizontal","size":34,"thickness":2.5,"color":"#000","opacity":1},"encoding":{"x":{"field":"x","type":"quantitative","scale":{"domain":[0.53,2.43]},"axis":{"values":[1,2],"labelExpr":"datum.value==1?'rTMS':'Sham'","labelPadding":5},"title":null},"y":{"field":"m","type":"quantitative","scale":{"domain":[-20,20]},"axis":{"values":[-20,-15,-10,-5,0,5,10,15,20],"labelExpr":"toString(datum.value)","titleFontSize":10.5,"labelFontSize":12.5,"titlePadding":12,"labelPadding":2},"title":"change of latency (ms)"}}},
   {"data":{"name":"stats"},"transform":[{"filter":"datum.p=='B1'"}],"mark":{"type":"tick","orient":"horizontal","size":16,"thickness":2,"color":"#000","opacity":1},"encoding":{"x":{"field":"x","type":"quantitative","scale":{"domain":[0.53,2.43]},"axis":{"values":[1,2],"labelExpr":"datum.value==1?'rTMS':'Sham'","labelPadding":5},"title":null},"y":{"field":"lo","type":"quantitative","scale":{"domain":[-20,20]},"axis":{"values":[-20,-15,-10,-5,0,5,10,15,20],"labelExpr":"toString(datum.value)","titleFontSize":10.5,"labelFontSize":12.5,"titlePadding":12,"labelPadding":2},"title":"change of latency (ms)"}}},
   {"data":{"name":"stats"},"transform":[{"filter":"datum.p=='B1'"}],"mark":{"type":"tick","orient":"horizontal","size":16,"thickness":2,"color":"#000","opacity":1},"encoding":{"x":{"field":"x","type":"quantitative","scale":{"domain":[0.53,2.43]},"axis":{"values":[1,2],"labelExpr":"datum.value==1?'rTMS':'Sham'","labelPadding":5},"title":null},"y":{"field":"hi","type":"quantitative","scale":{"domain":[-20,20]},"axis":{"values":[-20,-15,-10,-5,0,5,10,15,20],"labelExpr":"toString(datum.value)","titleFontSize":10.5,"labelFontSize":12.5,"titlePadding":12,"labelPadding":2},"title":"change of latency (ms)"}}}
  ]},
  {"width":105,"height":99,"title":{"text":"central","subtitle":"p = 0.010","offset":1},"layer":[
   {"data":{"name":"pts"},"transform":[{"filter":"datum.p=='B2'"}],"mark":{"type":"point","shape":"M-1,-1L1,1M-1,1L1,-1","size":25,"strokeWidth":1,"color":"#222","opacity":1,"filled":false},"encoding":{"x":{"field":"x","type":"quantitative","scale":{"domain":[0.53,2.43]},"axis":{"values":[1,2],"labelExpr":"datum.value==1?'rTMS':'Sham'","labelPadding":5},"title":null},"y":{"field":"v","type":"quantitative","scale":{"domain":[-20,20]},"axis":{"values":[-20,-15,-10,-5,0,5,10,15,20],"labelExpr":"toString(datum.value)","titleFontSize":10.5,"labelFontSize":12.5,"titlePadding":12,"labelPadding":2},"title":"change of latency (ms)"}}},
   {"data":{"name":"stats"},"transform":[{"filter":"datum.p=='B2'"}],"mark":{"type":"rule","strokeWidth":2,"color":"#000"},"encoding":{"y":{"datum":0,"type":"quantitative","scale":{"domain":[-20,20]},"axis":{"values":[-20,-15,-10,-5,0,5,10,15,20],"labelExpr":"toString(datum.value)","titleFontSize":10.5,"labelFontSize":12.5,"titlePadding":12,"labelPadding":2},"title":"change of latency (ms)"}}},
   {"data":{"name":"stats"},"transform":[{"filter":"datum.p=='B2'"}],"mark":{"type":"rule","strokeWidth":2,"color":"#000"},"encoding":{"x":{"field":"x","type":"quantitative","scale":{"domain":[0.53,2.43]},"axis":{"values":[1,2],"labelExpr":"datum.value==1?'rTMS':'Sham'","labelPadding":5},"title":null},"y":{"field":"lo","type":"quantitative","scale":{"domain":[-20,20]},"axis":{"values":[-20,-15,-10,-5,0,5,10,15,20],"labelExpr":"toString(datum.value)","titleFontSize":10.5,"labelFontSize":12.5,"titlePadding":12,"labelPadding":2},"title":"change of latency (ms)"},"y2":{"field":"hi"}}},
   {"data":{"name":"stats"},"transform":[{"filter":"datum.p=='B2'"}],"mark":{"type":"tick","orient":"horizontal","size":34,"thickness":2.5,"color":"#000","opacity":1},"encoding":{"x":{"field":"x","type":"quantitative","scale":{"domain":[0.53,2.43]},"axis":{"values":[1,2],"labelExpr":"datum.value==1?'rTMS':'Sham'","labelPadding":5},"title":null},"y":{"field":"m","type":"quantitative","scale":{"domain":[-20,20]},"axis":{"values":[-20,-15,-10,-5,0,5,10,15,20],"labelExpr":"toString(datum.value)","titleFontSize":10.5,"labelFontSize":12.5,"titlePadding":12,"labelPadding":2},"title":"change of latency (ms)"}}},
   {"data":{"name":"stats"},"transform":[{"filter":"datum.p=='B2'"}],"mark":{"type":"tick","orient":"horizontal","size":16,"thickness":2,"color":"#000","opacity":1},"encoding":{"x":{"field":"x","type":"quantitative","scale":{"domain":[0.53,2.43]},"axis":{"values":[1,2],"labelExpr":"datum.value==1?'rTMS':'Sham'","labelPadding":5},"title":null},"y":{"field":"lo","type":"quantitative","scale":{"domain":[-20,20]},"axis":{"values":[-20,-15,-10,-5,0,5,10,15,20],"labelExpr":"toString(datum.value)","titleFontSize":10.5,"labelFontSize":12.5,"titlePadding":12,"labelPadding":2},"title":"change of latency (ms)"}}},
   {"data":{"name":"stats"},"transform":[{"filter":"datum.p=='B2'"}],"mark":{"type":"tick","orient":"horizontal","size":16,"thickness":2,"color":"#000","opacity":1},"encoding":{"x":{"field":"x","type":"quantitative","scale":{"domain":[0.53,2.43]},"axis":{"values":[1,2],"labelExpr":"datum.value==1?'rTMS':'Sham'","labelPadding":5},"title":null},"y":{"field":"hi","type":"quantitative","scale":{"domain":[-20,20]},"axis":{"values":[-20,-15,-10,-5,0,5,10,15,20],"labelExpr":"toString(datum.value)","titleFontSize":10.5,"labelFontSize":12.5,"titlePadding":12,"labelPadding":2},"title":"change of latency (ms)"}}}
  ]},
  {"width":105,"height":99,"title":{"text":"peripheral 1","subtitle":"p = 0.298","offset":1},"layer":[
   {"data":{"name":"pts"},"transform":[{"filter":"datum.p=='B3'"}],"mark":{"type":"point","shape":"M-1,-1L1,1M-1,1L1,-1","size":25,"strokeWidth":1,"color":"#222","opacity":1,"filled":false},"encoding":{"x":{"field":"x","type":"quantitative","scale":{"domain":[0.53,2.43]},"axis":{"values":[1,2],"labelExpr":"datum.value==1?'rTMS':'Sham'","labelPadding":5},"title":null},"y":{"field":"v","type":"quantitative","scale":{"domain":[-20,20]},"axis":{"values":[-20,-15,-10,-5,0,5,10,15,20],"labelExpr":"toString(datum.value)","titleFontSize":10.5,"labelFontSize":12.5,"titlePadding":12,"labelPadding":2},"title":"change of latency (ms)"}}},
   {"data":{"name":"stats"},"transform":[{"filter":"datum.p=='B3'"}],"mark":{"type":"rule","strokeWidth":2,"color":"#000"},"encoding":{"y":{"datum":0,"type":"quantitative","scale":{"domain":[-20,20]},"axis":{"values":[-20,-15,-10,-5,0,5,10,15,20],"labelExpr":"toString(datum.value)","titleFontSize":10.5,"labelFontSize":12.5,"titlePadding":12,"labelPadding":2},"title":"change of latency (ms)"}}},
   {"data":{"name":"stats"},"transform":[{"filter":"datum.p=='B3'"}],"mark":{"type":"rule","strokeWidth":2,"color":"#000"},"encoding":{"x":{"field":"x","type":"quantitative","scale":{"domain":[0.53,2.43]},"axis":{"values":[1,2],"labelExpr":"datum.value==1?'rTMS':'Sham'","labelPadding":5},"title":null},"y":{"field":"lo","type":"quantitative","scale":{"domain":[-20,20]},"axis":{"values":[-20,-15,-10,-5,0,5,10,15,20],"labelExpr":"toString(datum.value)","titleFontSize":10.5,"labelFontSize":12.5,"titlePadding":12,"labelPadding":2},"title":"change of latency (ms)"},"y2":{"field":"hi"}}},
   {"data":{"name":"stats"},"transform":[{"filter":"datum.p=='B3'"}],"mark":{"type":"tick","orient":"horizontal","size":34,"thickness":2.5,"color":"#000","opacity":1},"encoding":{"x":{"field":"x","type":"quantitative","scale":{"domain":[0.53,2.43]},"axis":{"values":[1,2],"labelExpr":"datum.value==1?'rTMS':'Sham'","labelPadding":5},"title":null},"y":{"field":"m","type":"quantitative","scale":{"domain":[-20,20]},"axis":{"values":[-20,-15,-10,-5,0,5,10,15,20],"labelExpr":"toString(datum.value)","titleFontSize":10.5,"labelFontSize":12.5,"titlePadding":12,"labelPadding":2},"title":"change of latency (ms)"}}},
   {"data":{"name":"stats"},"transform":[{"filter":"datum.p=='B3'"}],"mark":{"type":"tick","orient":"horizontal","size":16,"thickness":2,"color":"#000","opacity":1},"encoding":{"x":{"field":"x","type":"quantitative","scale":{"domain":[0.53,2.43]},"axis":{"values":[1,2],"labelExpr":"datum.value==1?'rTMS':'Sham'","labelPadding":5},"title":null},"y":{"field":"lo","type":"quantitative","scale":{"domain":[-20,20]},"axis":{"values":[-20,-15,-10,-5,0,5,10,15,20],"labelExpr":"toString(datum.value)","titleFontSize":10.5,"labelFontSize":12.5,"titlePadding":12,"labelPadding":2},"title":"change of latency (ms)"}}},
   {"data":{"name":"stats"},"transform":[{"filter":"datum.p=='B3'"}],"mark":{"type":"tick","orient":"horizontal","size":16,"thickness":2,"color":"#000","opacity":1},"encoding":{"x":{"field":"x","type":"quantitative","scale":{"domain":[0.53,2.43]},"axis":{"values":[1,2],"labelExpr":"datum.value==1?'rTMS':'Sham'","labelPadding":5},"title":null},"y":{"field":"hi","type":"quantitative","scale":{"domain":[-20,20]},"axis":{"values":[-20,-15,-10,-5,0,5,10,15,20],"labelExpr":"toString(datum.value)","titleFontSize":10.5,"labelFontSize":12.5,"titlePadding":12,"labelPadding":2},"title":"change of latency (ms)"}}}
  ]},
  {"width":105,"height":99,"title":{"text":"peripheral 2","subtitle":"p = 0.410","offset":1},"layer":[
   {"data":{"name":"pts"},"transform":[{"filter":"datum.p=='B4'"}],"mark":{"type":"point","shape":"M-1,-1L1,1M-1,1L1,-1","size":25,"strokeWidth":1,"color":"#222","opacity":1,"filled":false},"encoding":{"x":{"field":"x","type":"quantitative","scale":{"domain":[0.53,2.43]},"axis":{"values":[1,2],"labelExpr":"datum.value==1?'rTMS':'Sham'","labelPadding":5},"title":null},"y":{"field":"v","type":"quantitative","scale":{"domain":[-20,20]},"axis":{"values":[-20,-15,-10,-5,0,5,10,15,20],"labelExpr":"toString(datum.value)","titleFontSize":10.5,"labelFontSize":12.5,"titlePadding":12,"labelPadding":2},"title":"change of latency (ms)"}}},
   {"data":{"name":"stats"},"transform":[{"filter":"datum.p=='B4'"}],"mark":{"type":"rule","strokeWidth":2,"color":"#000"},"encoding":{"y":{"datum":0,"type":"quantitative","scale":{"domain":[-20,20]},"axis":{"values":[-20,-15,-10,-5,0,5,10,15,20],"labelExpr":"toString(datum.value)","titleFontSize":10.5,"labelFontSize":12.5,"titlePadding":12,"labelPadding":2},"title":"change of latency (ms)"}}},
   {"data":{"name":"stats"},"transform":[{"filter":"datum.p=='B4'"}],"mark":{"type":"rule","strokeWidth":2,"color":"#000"},"encoding":{"x":{"field":"x","type":"quantitative","scale":{"domain":[0.53,2.43]},"axis":{"values":[1,2],"labelExpr":"datum.value==1?'rTMS':'Sham'","labelPadding":5},"title":null},"y":{"field":"lo","type":"quantitative","scale":{"domain":[-20,20]},"axis":{"values":[-20,-15,-10,-5,0,5,10,15,20],"labelExpr":"toString(datum.value)","titleFontSize":10.5,"labelFontSize":12.5,"titlePadding":12,"labelPadding":2},"title":"change of latency (ms)"},"y2":{"field":"hi"}}},
   {"data":{"name":"stats"},"transform":[{"filter":"datum.p=='B4'"}],"mark":{"type":"tick","orient":"horizontal","size":34,"thickness":2.5,"color":"#000","opacity":1},"encoding":{"x":{"field":"x","type":"quantitative","scale":{"domain":[0.53,2.43]},"axis":{"values":[1,2],"labelExpr":"datum.value==1?'rTMS':'Sham'","labelPadding":5},"title":null},"y":{"field":"m","type":"quantitative","scale":{"domain":[-20,20]},"axis":{"values":[-20,-15,-10,-5,0,5,10,15,20],"labelExpr":"toString(datum.value)","titleFontSize":10.5,"labelFontSize":12.5,"titlePadding":12,"labelPadding":2},"title":"change of latency (ms)"}}},
   {"data":{"name":"stats"},"transform":[{"filter":"datum.p=='B4'"}],"mark":{"type":"tick","orient":"horizontal","size":16,"thickness":2,"color":"#000","opacity":1},"encoding":{"x":{"field":"x","type":"quantitative","scale":{"domain":[0.53,2.43]},"axis":{"values":[1,2],"labelExpr":"datum.value==1?'rTMS':'Sham'","labelPadding":5},"title":null},"y":{"field":"lo","type":"quantitative","scale":{"domain":[-20,20]},"axis":{"values":[-20,-15,-10,-5,0,5,10,15,20],"labelExpr":"toString(datum.value)","titleFontSize":10.5,"labelFontSize":12.5,"titlePadding":12,"labelPadding":2},"title":"change of latency (ms)"}}},
   {"data":{"name":"stats"},"transform":[{"filter":"datum.p=='B4'"}],"mark":{"type":"tick","orient":"horizontal","size":16,"thickness":2,"color":"#000","opacity":1},"encoding":{"x":{"field":"x","type":"quantitative","scale":{"domain":[0.53,2.43]},"axis":{"values":[1,2],"labelExpr":"datum.value==1?'rTMS':'Sham'","labelPadding":5},"title":null},"y":{"field":"hi","type":"quantitative","scale":{"domain":[-20,20]},"axis":{"values":[-20,-15,-10,-5,0,5,10,15,20],"labelExpr":"toString(datum.value)","titleFontSize":10.5,"labelFontSize":12.5,"titlePadding":12,"labelPadding":2},"title":"change of latency (ms)"}}}
  ]},
  {"width":105,"height":99,"title":{"text":"peripheral 3","subtitle":"p = 0.148","offset":1},"layer":[
   {"data":{"name":"pts"},"transform":[{"filter":"datum.p=='B5'"}],"mark":{"type":"point","shape":"M-1,-1L1,1M-1,1L1,-1","size":25,"strokeWidth":1,"color":"#222","opacity":1,"filled":false},"encoding":{"x":{"field":"x","type":"quantitative","scale":{"domain":[0.53,2.43]},"axis":{"values":[1,2],"labelExpr":"datum.value==1?'rTMS':'Sham'","labelPadding":5},"title":null},"y":{"field":"v","type":"quantitative","scale":{"domain":[-20,20]},"axis":{"values":[-20,-15,-10,-5,0,5,10,15,20],"labelExpr":"toString(datum.value)","titleFontSize":10.5,"labelFontSize":12.5,"titlePadding":12,"labelPadding":2},"title":"change of latency (ms)"}}},
   {"data":{"name":"stats"},"transform":[{"filter":"datum.p=='B5'"}],"mark":{"type":"rule","strokeWidth":2,"color":"#000"},"encoding":{"y":{"datum":0,"type":"quantitative","scale":{"domain":[-20,20]},"axis":{"values":[-20,-15,-10,-5,0,5,10,15,20],"labelExpr":"toString(datum.value)","titleFontSize":10.5,"labelFontSize":12.5,"titlePadding":12,"labelPadding":2},"title":"change of latency (ms)"}}},
   {"data":{"name":"stats"},"transform":[{"filter":"datum.p=='B5'"}],"mark":{"type":"rule","strokeWidth":2,"color":"#000"},"encoding":{"x":{"field":"x","type":"quantitative","scale":{"domain":[0.53,2.43]},"axis":{"values":[1,2],"labelExpr":"datum.value==1?'rTMS':'Sham'","labelPadding":5},"title":null},"y":{"field":"lo","type":"quantitative","scale":{"domain":[-20,20]},"axis":{"values":[-20,-15,-10,-5,0,5,10,15,20],"labelExpr":"toString(datum.value)","titleFontSize":10.5,"labelFontSize":12.5,"titlePadding":12,"labelPadding":2},"title":"change of latency (ms)"},"y2":{"field":"hi"}}},
   {"data":{"name":"stats"},"transform":[{"filter":"datum.p=='B5'"}],"mark":{"type":"tick","orient":"horizontal","size":34,"thickness":2.5,"color":"#000","opacity":1},"encoding":{"x":{"field":"x","type":"quantitative","scale":{"domain":[0.53,2.43]},"axis":{"values":[1,2],"labelExpr":"datum.value==1?'rTMS':'Sham'","labelPadding":5},"title":null},"y":{"field":"m","type":"quantitative","scale":{"domain":[-20,20]},"axis":{"values":[-20,-15,-10,-5,0,5,10,15,20],"labelExpr":"toString(datum.value)","titleFontSize":10.5,"labelFontSize":12.5,"titlePadding":12,"labelPadding":2},"title":"change of latency (ms)"}}},
   {"data":{"name":"stats"},"transform":[{"filter":"datum.p=='B5'"}],"mark":{"type":"tick","orient":"horizontal","size":16,"thickness":2,"color":"#000","opacity":1},"encoding":{"x":{"field":"x","type":"quantitative","scale":{"domain":[0.53,2.43]},"axis":{"values":[1,2],"labelExpr":"datum.value==1?'rTMS':'Sham'","labelPadding":5},"title":null},"y":{"field":"lo","type":"quantitative","scale":{"domain":[-20,20]},"axis":{"values":[-20,-15,-10,-5,0,5,10,15,20],"labelExpr":"toString(datum.value)","titleFontSize":10.5,"labelFontSize":12.5,"titlePadding":12,"labelPadding":2},"title":"change of latency (ms)"}}},
   {"data":{"name":"stats"},"transform":[{"filter":"datum.p=='B5'"}],"mark":{"type":"tick","orient":"horizontal","size":16,"thickness":2,"color":"#000","opacity":1},"encoding":{"x":{"field":"x","type":"quantitative","scale":{"domain":[0.53,2.43]},"axis":{"values":[1,2],"labelExpr":"datum.value==1?'rTMS':'Sham'","labelPadding":5},"title":null},"y":{"field":"hi","type":"quantitative","scale":{"domain":[-20,20]},"axis":{"values":[-20,-15,-10,-5,0,5,10,15,20],"labelExpr":"toString(datum.value)","titleFontSize":10.5,"labelFontSize":12.5,"titlePadding":12,"labelPadding":2},"title":"change of latency (ms)"}}}
  ]},
  {"width":105,"height":99,"title":{"text":"peripheral 4","subtitle":"p = 0.443","offset":1},"layer":[
   {"data":{"name":"pts"},"transform":[{"filter":"datum.p=='B6'"}],"mark":{"type":"point","shape":"M-1,-1L1,1M-1,1L1,-1","size":25,"strokeWidth":1,"color":"#222","opacity":1,"filled":false},"encoding":{"x":{"field":"x","type":"quantitative","scale":{"domain":[0.53,2.43]},"axis":{"values":[1,2],"labelExpr":"datum.value==1?'rTMS':'Sham'","labelPadding":5},"title":null},"y":{"field":"v","type":"quantitative","scale":{"domain":[-20,20]},"axis":{"values":[-20,-15,-10,-5,0,5,10,15,20],"labelExpr":"toString(datum.value)","titleFontSize":10.5,"labelFontSize":12.5,"titlePadding":12,"labelPadding":2},"title":"change of latency (ms)"}}},
   {"data":{"name":"stats"},"transform":[{"filter":"datum.p=='B6'"}],"mark":{"type":"rule","strokeWidth":2,"color":"#000"},"encoding":{"y":{"datum":0,"type":"quantitative","scale":{"domain":[-20,20]},"axis":{"values":[-20,-15,-10,-5,0,5,10,15,20],"labelExpr":"toString(datum.value)","titleFontSize":10.5,"labelFontSize":12.5,"titlePadding":12,"labelPadding":2},"title":"change of latency (ms)"}}},
   {"data":{"name":"stats"},"transform":[{"filter":"datum.p=='B6'"}],"mark":{"type":"rule","strokeWidth":2,"color":"#000"},"encoding":{"x":{"field":"x","type":"quantitative","scale":{"domain":[0.53,2.43]},"axis":{"values":[1,2],"labelExpr":"datum.value==1?'rTMS':'Sham'","labelPadding":5},"title":null},"y":{"field":"lo","type":"quantitative","scale":{"domain":[-20,20]},"axis":{"values":[-20,-15,-10,-5,0,5,10,15,20],"labelExpr":"toString(datum.value)","titleFontSize":10.5,"labelFontSize":12.5,"titlePadding":12,"labelPadding":2},"title":"change of latency (ms)"},"y2":{"field":"hi"}}},
   {"data":{"name":"stats"},"transform":[{"filter":"datum.p=='B6'"}],"mark":{"type":"tick","orient":"horizontal","size":34,"thickness":2.5,"color":"#000","opacity":1},"encoding":{"x":{"field":"x","type":"quantitative","scale":{"domain":[0.53,2.43]},"axis":{"values":[1,2],"labelExpr":"datum.value==1?'rTMS':'Sham'","labelPadding":5},"title":null},"y":{"field":"m","type":"quantitative","scale":{"domain":[-20,20]},"axis":{"values":[-20,-15,-10,-5,0,5,10,15,20],"labelExpr":"toString(datum.value)","titleFontSize":10.5,"labelFontSize":12.5,"titlePadding":12,"labelPadding":2},"title":"change of latency (ms)"}}},
   {"data":{"name":"stats"},"transform":[{"filter":"datum.p=='B6'"}],"mark":{"type":"tick","orient":"horizontal","size":16,"thickness":2,"color":"#000","opacity":1},"encoding":{"x":{"field":"x","type":"quantitative","scale":{"domain":[0.53,2.43]},"axis":{"values":[1,2],"labelExpr":"datum.value==1?'rTMS':'Sham'","labelPadding":5},"title":null},"y":{"field":"lo","type":"quantitative","scale":{"domain":[-20,20]},"axis":{"values":[-20,-15,-10,-5,0,5,10,15,20],"labelExpr":"toString(datum.value)","titleFontSize":10.5,"labelFontSize":12.5,"titlePadding":12,"labelPadding":2},"title":"change of latency (ms)"}}},
   {"data":{"name":"stats"},"transform":[{"filter":"datum.p=='B6'"}],"mark":{"type":"tick","orient":"horizontal","size":16,"thickness":2,"color":"#000","opacity":1},"encoding":{"x":{"field":"x","type":"quantitative","scale":{"domain":[0.53,2.43]},"axis":{"values":[1,2],"labelExpr":"datum.value==1?'rTMS':'Sham'","labelPadding":5},"title":null},"y":{"field":"hi","type":"quantitative","scale":{"domain":[-20,20]},"axis":{"values":[-20,-15,-10,-5,0,5,10,15,20],"labelExpr":"toString(datum.value)","titleFontSize":10.5,"labelFontSize":12.5,"titlePadding":12,"labelPadding":2},"title":"change of latency (ms)"}}}
  ]}
 ]}
],
"config":{
 "font":"Liberation Sans",
 "view":{"stroke":null},
 "title":{"font":"Liberation Sans","fontSize":16,"fontWeight":"bold","color":"#000","subtitleFont":"Liberation Sans","subtitleFontSize":13,"subtitleFontStyle":"italic","subtitleColor":"#222","subtitlePadding":4,"offset":3,"anchor":"middle"},
 "axis":{"grid":false,"labelFont":"Liberation Sans","labelFontWeight":"bold","labelColor":"#000","titleFont":"Liberation Sans","titleFontWeight":"bold","titleColor":"#000","labelOverlap":false},
 "axisX":{"domain":false,"ticks":false,"labelFontSize":13,"labelAngle":0,"labelFlush":false},
 "axisY":{"domainColor":"#000","domainWidth":2,"tickColor":"#000","tickWidth":1.5,"tickSize":5,"labelPadding":1,"titlePadding":1}
}
}
